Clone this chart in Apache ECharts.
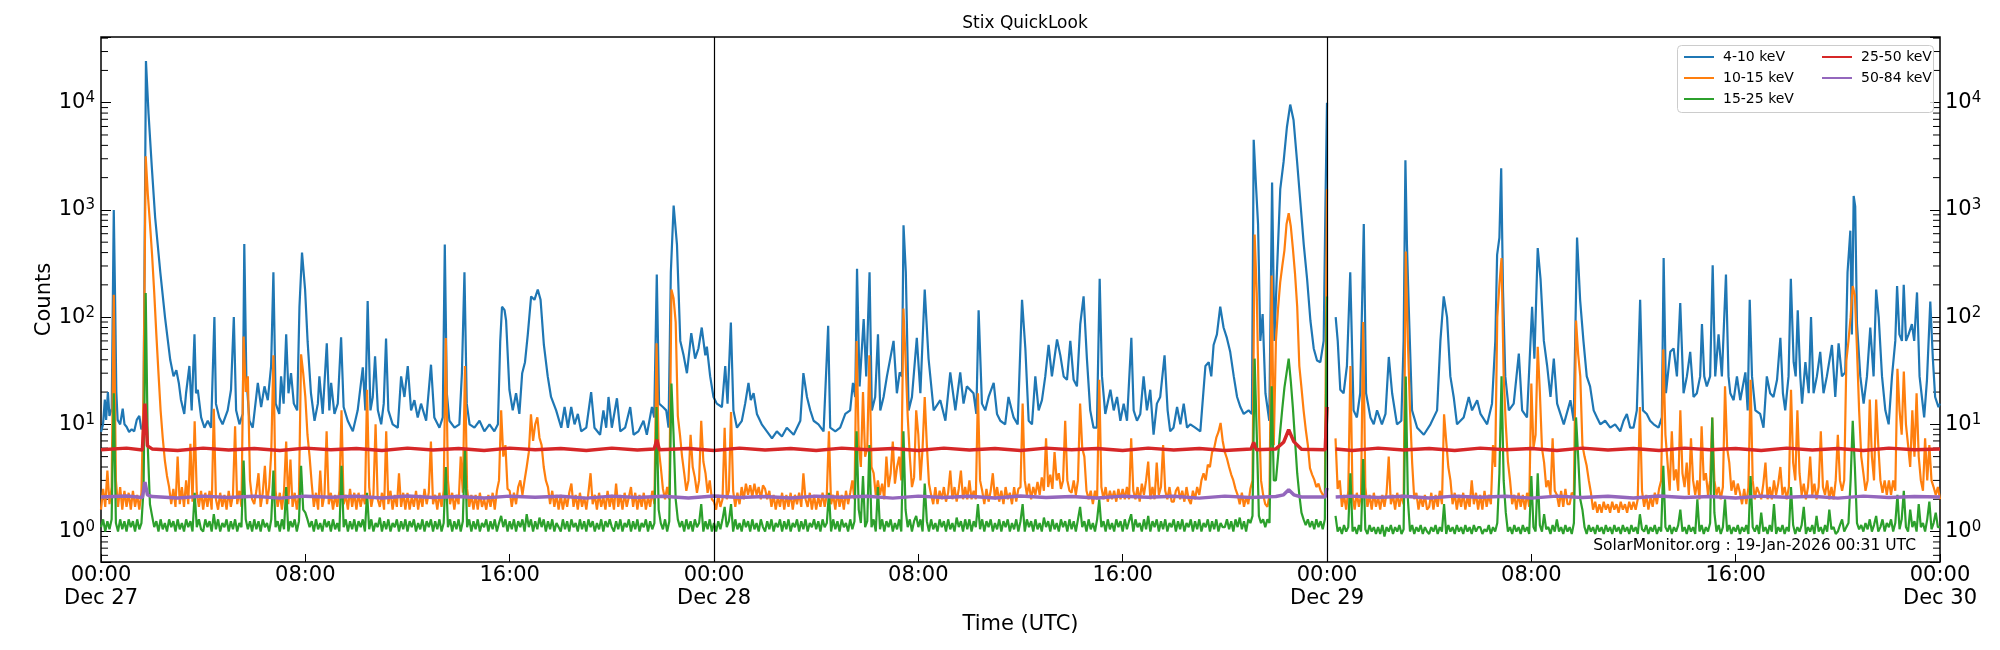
<!DOCTYPE html>
<html>
<head>
<meta charset="utf-8">
<title>Stix QuickLook</title>
<script src="https://cdn.jsdelivr.net/npm/echarts@6/dist/echarts.min.js"></script>
<style>
  html, body { margin: 0; padding: 0; background: #fff; }
  #chart { width: 2000px; height: 650px; }
</style>
</head>
<body>
<div id="chart"></div>
<script>
// STIX quicklook light curves, Dec 27 - Dec 30 (hours since Dec 27 00:00 UTC)
var FONT = 'DejaVu Sans';

var seriesNames = ['4-10 keV', '10-15 keV', '15-25 keV', '25-50 keV', '50-84 keV'];
var seriesColors = ['#1f77b4', '#ff7f0e', '#2ca02c', '#d62728', '#9467bd'];
var xTickLabels = ['00:00\nDec 27', '08:00', '16:00', '00:00\nDec 28', '08:00', '16:00',
  '00:00\nDec 29', '08:00', '16:00', '00:00\nDec 30'];
var dayBoundaries = [24, 48];
var minorTickValues = [0.6, 0.7, 0.8, 0.9, 2, 3, 4, 5, 6, 7, 8, 9, 20, 30, 40, 50, 60, 70, 80, 90,
  200, 300, 400, 500, 600, 700, 800, 900, 2000, 3000, 4000, 5000, 6000, 7000, 8000, 9000,
  20000, 30000, 40000];

// 4-10 keV: [hour, counts]
var counts4to10 = [
  [0,8.5],[0.08,10],[0.15,17],[0.2,11],[0.27,20],[0.33,12],[0.42,14],[0.5,1000],[0.55,160],[0.6,20],
  [0.65,11],[0.75,10],[0.85,14],[0.92,10],[1.0,9.5],[1.1,8.5],[1.2,9],[1.3,8.6],[1.4,11],[1.5,12],
  [1.58,9],[1.66,9.5],[1.76,24500],[1.86,8000],[1.99,2500],[2.12,850],[2.32,265],[2.51,98],[2.71,40],[2.84,28],
  [2.95,32],[3.05,24],[3.13,17],[3.26,12.5],[3.33,19.5],[3.46,35],[3.55,13.5],[3.66,69],[3.72,19.5],[3.79,21],
  [3.92,11.6],[4.05,9.3],[4.18,10.8],[4.31,9.3],[4.44,100],[4.5,15.6],[4.63,11.6],[4.76,10],[4.96,13.5],[5.09,21],
  [5.2,100],[5.29,13.5],[5.42,10],[5.55,12.5],[5.61,480],[5.69,28],[5.81,10.8],[5.94,9.3],[6.14,24.4],[6.27,14.5],
  [6.4,22.6],[6.53,16.8],[6.66,35],[6.75,262],[6.84,15.6],[6.98,12.5],[7.05,28],[7.15,15.6],[7.25,69],[7.34,19.5],
  [7.44,30],[7.55,15.6],[7.68,13.5],[7.77,125],[7.87,400],[7.99,181],[8.09,59],[8.22,19.5],[8.36,10.8],[8.49,15.6],
  [8.55,28],[8.68,12.5],[8.84,57],[8.94,13.5],[9.01,24.4],[9.14,12.5],[9.27,15.6],[9.4,65],[9.5,14.5],[9.66,10.8],
  [9.86,8.6],[10.05,13.5],[10.25,34],[10.35,13.5],[10.44,141],[10.55,13.5],[10.64,18],[10.73,43],[10.84,13.5],[10.97,10],
  [11.07,15.6],[11.16,63],[11.25,13.5],[11.42,10],[11.62,9.3],[11.75,28],[11.88,18],[12.01,35],[12.14,13.5],[12.27,16.8],
  [12.4,11.6],[12.53,15.6],[12.73,10.8],[12.92,36],[13.05,11.6],[13.25,9.3],[13.38,11.6],[13.46,475],[13.54,19.5],[13.64,10.8],
  [13.84,9.3],[14.03,10],[14.13,30],[14.23,262],[14.32,15.6],[14.43,10],[14.62,9.3],[14.82,10.8],[15.01,8.6],[15.21,10],
  [15.4,8.6],[15.54,10],[15.63,59],[15.7,125],[15.8,116],[15.86,93],[15.99,21],[16.12,13.5],[16.25,19.5],[16.38,12.5],
  [16.49,30],[16.6,38],[16.71,69],[16.84,156],[16.97,145],[17.1,181],[17.21,145],[17.34,55],[17.49,28],[17.62,18],
  [17.82,13.5],[18.02,9.3],[18.15,14.5],[18.28,9.3],[18.41,14.5],[18.54,10],[18.67,12.5],[18.8,8.6],[19.0,9.3],[19.19,20],
  [19.32,9.3],[19.54,8],[19.67,13.5],[19.78,9.3],[19.87,18],[20.0,9.3],[20.2,17.5],[20.33,8.6],[20.52,9.3],[20.72,14.5],
  [20.85,8],[21.04,8.6],[21.24,10.8],[21.37,8],[21.57,14.5],[21.66,11.6],[21.76,250],[21.85,15.6],[22.0,14.5],[22.13,13.5],
  [22.22,9.3],[22.31,262],[22.42,1100],[22.55,475],[22.68,60],[22.81,44],[22.94,30],[23.11,71],[23.26,41],[23.39,51],
  [23.52,80],[23.66,44],[23.72,53],[23.85,28],[23.98,18],[24.11,15.6],[24.31,14.5],[24.44,35],[24.53,15.6],[24.66,89],
  [24.76,13.5],[24.9,9.3],[25.09,10.8],[25.22,15.6],[25.35,24.4],[25.44,16.8],[25.55,19.5],[25.68,12.5],[25.87,10],[26.07,8.6],
  [26.27,7.4],[26.46,8.6],[26.66,7.7],[26.85,9.3],[27.12,8],[27.38,10.8],[27.5,30],[27.64,18],[27.77,13.5],[27.9,10.8],
  [28.09,10],[28.29,8.6],[28.47,83],[28.55,9.3],[28.75,8.6],[28.94,9.3],[29.14,12.5],[29.33,13.5],[29.44,24.4],[29.53,18],
  [29.6,282],[29.7,22.6],[29.86,96],[29.96,28],[30.09,262],[30.18,13.5],[30.31,18],[30.42,69],[30.51,13.5],[30.64,18],
  [30.77,28],[30.9,41],[31.03,60],[31.16,19.5],[31.27,30.5],[31.36,28],[31.42,720],[31.51,262],[31.62,13.5],[31.75,18],
  [31.94,64],[32.08,19.5],[32.25,181],[32.4,41],[32.6,13.5],[32.86,16.8],[33.06,10.8],[33.25,30.5],[33.45,13.5],[33.64,30.5],
  [33.77,15.6],[33.9,22.6],[34.16,19.5],[34.27,12.5],[34.36,116],[34.49,15.6],[34.62,13.5],[34.75,18],[34.95,24.4],[35.08,12.5],
  [35.21,10.8],[35.4,10],[35.53,18],[35.73,11.6],[35.89,10],[36.06,145],[36.19,51],[36.32,10.8],[36.45,10],[36.58,28],
  [36.71,13.5],[36.84,16.8],[36.97,28],[37.1,55],[37.23,28],[37.43,62],[37.56,44],[37.69,28],[37.82,26],[37.95,60],
  [38.08,26],[38.21,22.6],[38.34,86],[38.47,156],[38.6,41],[38.73,13.5],[38.86,9.3],[38.99,9.3],[39.1,228],[39.19,28],
  [39.32,12.5],[39.52,21],[39.65,13.5],[39.78,18],[39.91,10.8],[40.04,15.6],[40.17,10.8],[40.34,64],[40.43,13.5],[40.56,10.8],
  [40.69,12.5],[40.82,28],[40.95,13.5],[41.08,21],[41.21,8],[41.34,15.6],[41.47,18],[41.64,44],[41.76,13.5],[41.86,8.6],
  [41.99,9.3],[42.13,14.5],[42.26,10],[42.39,15.6],[42.52,9.3],[42.65,10],[42.84,9.3],[43.04,8.6],[43.24,35],[43.37,38],
  [43.47,28],[43.56,55],[43.69,69],[43.82,125],[43.95,80],[44.08,64],[44.21,47.5],[44.35,28],[44.48,18],[44.61,14.5],
  [44.74,12.5],[44.93,13.5],[45.06,12.5],[45.13,4500],[45.22,1690],[45.3,740],[45.39,60],[45.48,107],[45.59,19.5],[45.74,10.8],
  [45.85,1800],[45.94,60],[46.04,262],[46.17,1560],[46.3,2800],[46.43,5900],[46.56,9600],[46.69,6900],[46.83,2800],[46.96,1160],
  [47.09,475],[47.22,228],[47.35,93],[47.48,51],[47.61,39.4],[47.74,38],[47.87,60],[47.94,1160],[48.0,10000],[48.15,null],
  [48.34,100],[48.42,60],[48.52,21],[48.65,19.5],[48.78,35],[48.91,262],[49.04,13.5],[49.17,11.6],[49.3,19.5],[49.44,740],
  [49.53,19.5],[49.7,11.6],[49.83,10],[49.96,13.5],[50.15,10],[50.29,12.5],[50.42,42.5],[50.55,19.5],[50.74,10],[50.91,10.8],
  [51.0,60],[51.07,2900],[51.13,475],[51.2,125],[51.33,13.5],[51.53,9.3],[51.79,8],[52.05,10],[52.31,13.5],[52.44,60],
  [52.57,156],[52.7,100],[52.83,28],[52.96,18],[53.09,10],[53.35,11.6],[53.55,18],[53.68,13.5],[53.88,16.8],[54.01,12.5],
  [54.27,10],[54.46,15.6],[54.59,60],[54.66,380],[54.75,552],[54.82,2450],[54.89,181],[54.98,28],[55.12,13.5],[55.31,15.6],
  [55.51,45.6],[55.64,13.5],[55.83,11.6],[56.03,125],[56.12,41],[56.25,440],[56.36,228],[56.49,60],[56.62,35],[56.75,18],
  [56.88,41],[57.01,15.6],[57.27,10],[57.53,16.8],[57.66,10.8],[57.79,552],[57.91,145],[58.04,60],[58.17,28],[58.3,22.6],
  [58.44,13.5],[58.57,11.6],[58.7,10],[58.89,10.8],[59.09,9.3],[59.28,10],[59.48,8.6],[59.61,10.8],[59.74,12.5],[59.87,9.3],
  [60.0,9.3],[60.13,13.5],[60.26,145],[60.37,13.5],[60.52,12.5],[60.65,10.8],[60.79,10],[60.98,9.3],[61.11,11.6],[61.18,355],
  [61.27,19.5],[61.44,47.5],[61.57,51],[61.7,28],[61.83,135],[61.96,19.5],[62.09,28],[62.22,47.5],[62.35,18],[62.48,19.5],
  [62.61,28],[62.68,86],[62.77,28],[62.87,22.6],[63.0,28],[63.1,305],[63.2,28],[63.33,69],[63.46,28],[63.62,250],
  [63.72,28],[63.79,19.5],[63.92,16.8],[64.05,28],[64.18,16.8],[64.38,30.5],[64.47,13.5],[64.55,145],[64.64,28],[64.77,13.5],
  [64.96,12.5],[65.09,9.3],[65.22,28],[65.35,19.5],[65.48,18],[65.62,26],[65.75,64],[65.85,19.5],[65.94,13.5],[66.07,28],
  [66.16,228],[66.27,38],[66.35,28],[66.43,116],[66.53,28],[66.6,15.6],[66.73,38],[66.86,19.5],[66.95,100],[67.05,19.5],
  [67.18,28],[67.31,47.5],[67.44,19.5],[67.57,28],[67.77,55],[67.9,18],[68.03,57],[68.16,28],[68.29,30.5],[68.38,262],
  [68.49,640],[68.55,69],[68.62,1350],[68.68,1080],[68.75,86],[68.88,28],[69.01,15.6],[69.14,28],[69.27,80],[69.4,28],
  [69.5,181],[69.6,100],[69.73,28],[69.86,13.5],[69.99,10],[70.12,28],[70.25,60],[70.32,195],[70.41,69],[70.51,60],
  [70.58,200],[70.67,60],[70.77,69],[70.9,86],[70.99,60],[71.1,170],[71.2,28],[71.29,18],[71.38,11.6],[71.49,26],
  [71.62,140],[71.72,41],[71.81,18],[71.94,14.5],[72.0,15.6]
];

// 10-15 keV and 15-25 keV: one value every 5 minutes from 00:00 Dec 27 (two hours per row)
var gridStepHours = 1 / 12;
var counts10to15 = [
  1.6,2.5,1.7,3.7,1.8,2.6,162,3.0,1.7,2.6,1.6,2.4,1.7,2.3,1.6,2.4,1.7,2.2,1.6,2.3,20,3160,1400,750,
  380,170,69,30,13.5,7.5,4.6,3.3,2.6,1.8,2.5,1.7,5,1.8,2.6,1.7,3.0,1.8,6.6,1.9,10.7,2.3,1.7,2.4,
  1.6,2.3,1.7,2.4,1.6,14,2.0,1.6,2.3,1.7,2.2,1.6,2.4,1.7,2.2,9.6,1.8,2.4,1.7,66,20,28,3.0,2.0,
  1.8,2.4,3.5,1.7,2.3,4.1,1.8,2.6,5.5,44,2.4,1.7,2.3,1.6,2.4,6.9,1.8,4.7,1.7,2.3,1.6,2.2,45,30,
  18,8,5,2.8,1.7,2.3,1.6,3.7,1.7,2.2,8.6,1.8,2.3,1.6,2.2,1.7,2.4,13.5,1.8,2.2,1.6,2.5,1.7,2.3,
  1.6,2.3,1.7,2.2,1.8,21,2.6,1.7,2.2,10,2.0,1.7,2.3,1.6,8.6,1.8,2.4,1.6,2.2,1.7,3.5,1.7,2.3,1.6,
  2.3,1.6,2.1,1.7,2.4,1.6,2.2,1.7,2.5,1.8,2.3,6.9,1.8,2.2,1.6,2.3,1.7,2.4,64,3.0,1.8,2.3,1.6,2.2,
  1.8,5,2.3,35,2.5,1.7,2.2,1.6,2.2,1.6,2.3,1.7,2.0,1.6,2.2,1.7,2.3,1.6,2.4,3.0,13.5,5,6.4,2.5,
  2.4,1.7,2.3,1.8,2.6,3.0,2.2,3.0,4.0,5.5,12.4,7,10,11.6,7.5,6.4,4.0,3.0,2.6,1.8,2.4,1.7,2.2,1.6,
  2.2,1.6,2.1,1.7,2.3,2.8,1.7,2.2,1.6,2.3,1.7,2.1,1.6,2.3,3.5,1.8,2.2,1.6,2.3,1.7,2.1,1.6,2.4,1.7,
  2.2,1.6,2.8,1.7,2.2,1.6,2.3,1.7,2.1,2.6,1.7,2.3,1.6,2.2,1.7,2.3,1.6,2.1,1.7,2.4,1.8,57,6,4,
  2.5,2.0,2.6,2.0,181,150,90,12,8,5,3.5,2.4,3.0,8,4,3.2,2.3,3.0,10.8,4.5,3.5,2.3,3.0,2.0,
  1.9,1.6,2.2,1.7,2.0,9.3,2.0,2.4,13,2.4,1.7,2.3,1.8,2.6,2.0,2.8,2.2,2.7,2.1,2.8,2.2,2.6,2.0,2.7,
  2.5,2.0,2.4,1.7,2.2,1.6,2.1,1.7,2.3,1.6,2.2,1.7,2.3,1.6,2.2,1.8,2.3,1.7,3.5,2.0,1.7,2.3,1.6,2.2,
  1.6,2.1,1.7,2.3,1.7,2.2,8.6,1.8,2.2,1.6,2.4,1.7,2.2,1.6,2.4,1.8,2.3,3.0,2.0,60,6.4,4,20,5,
  6,44,4,3.5,2.2,3.0,2.2,2.8,2.0,5,2.6,3.5,6.9,2.8,4.0,5,3.0,120,40,12,5,2.6,3.2,13.5,
  8,3.0,6,18,6.4,2.8,2.2,1.8,2.6,1.8,2.4,2.0,2.6,1.9,2.3,3.7,2.0,2.6,1.9,2.5,3.7,2.0,2.6,2.0,
  3.0,2.0,2.4,2.0,19.5,3.0,2.4,1.8,2.5,1.9,2.4,3.5,2.0,2.6,1.9,2.4,1.8,2.6,2.0,2.3,1.8,2.6,1.9,2.5,
  2.6,15.6,3.0,2.2,2.8,2.0,2.6,2.2,2.9,2.2,3.2,2.4,7.4,2.6,3.4,2.5,5.5,3.0,3.5,2.5,3.0,10.8,3.0,2.4,
  2.3,3.0,2.2,3.0,15.6,6,5,2.4,2.0,2.4,1.8,2.4,2.0,26,2.6,2.0,2.6,1.9,2.4,2.0,2.4,1.9,2.5,2.0,
  2.5,2.0,2.6,2.0,7.4,2.4,2.0,2.6,1.9,2.8,2.2,3.0,4.5,2.0,2.6,2.0,4.4,2.2,2.6,6.4,2.4,2.0,2.6,1.9,
  1.9,2.4,2.6,2.0,2.4,1.9,2.6,2.0,1.8,2.4,2.0,2.6,2.2,3.0,3.5,3.0,4.2,4.0,5.5,6.0,7.5,8.5,10.3,7,
  5.5,4.8,4.0,3.4,3.0,2.5,2.2,1.8,2.3,1.7,2.1,1.8,2.5,3.0,590,168,13.5,3.0,2.2,1.8,1.7,2.2,245,6.4,
  60,120,210,300,420,740,930,700,430,250,125,35,22,13.5,9,6.4,3.9,3.4,3.05,2.6,2.8,2.4,2.2,2.2,
  1560,null,null,null,7.4,2.5,3.0,1.7,2.2,1.6,2.4,35,2.2,1.6,2.3,1.7,2.2,90,2.6,1.7,2.2,1.6,2.3,1.7,
  2.1,1.6,2.2,1.7,2.3,5,1.8,2.2,1.6,2.3,1.7,2.2,1.8,410,60,13.5,4.4,2.0,2.3,1.6,2.1,1.7,2.2,1.6,
  1.7,2.3,1.6,2.2,1.7,2.4,1.8,12.4,7,4,3.0,1.8,2.3,1.6,2.2,1.7,2.3,1.6,2.1,1.7,3.0,1.8,2.3,1.6,
  2.2,1.6,2.4,1.7,2.2,1.8,6.4,4,100,200,355,28,10,4.5,3.0,1.8,2.2,1.6,2.3,1.7,2.2,1.6,2.3,1.7,
  24,6,8,53,20,6,4.4,2.6,3.0,2.2,7.4,2.4,2.2,1.7,2.4,1.7,2.5,1.8,1.8,2.3,2.2,93,45,28,
  6.4,5,4.1,3.0,2.3,1.6,1.9,1.5,1.8,1.5,1.9,1.6,1.8,1.5,1.9,1.6,1.8,1.5,1.9,1.6,1.8,1.5,1.9,1.6,
  1.9,1.6,2.0,14.5,2.4,1.7,2.2,1.6,2.1,1.7,2.3,1.8,2.5,3.0,50,8,4.4,2.4,8.6,3.0,3.8,2.4,13.5,3.5,
  2.6,4.4,2.2,7.4,3.0,2.2,3.0,2.0,9.6,3.0,3.5,2.2,3.0,11.6,3.0,2.2,2.6,2.0,2.6,22.6,6,4.4,2.4,3.0,
  2.2,2.8,2.3,1.8,2.5,1.8,2.6,26,3.0,2.0,2.6,2.3,2.0,2.8,4.4,2.0,2.6,2.0,3.0,2.2,2.8,4.0,2.2,2.6,
  2.0,2.6,21,4.4,3.0,13.5,3.5,2.2,2.8,2.0,2.6,5,2.2,2.8,2.0,2.6,8.6,2.6,2.2,3.0,2.0,2.6,2.0,3.0,
  8,3.0,2.4,3.0,39,60,100,195,160,50,13.5,5,3.5,2.4,3.0,17,5,3.0,17,6.4,3.0,2.3,3.0,2.2,
  3.0,2.2,3.0,2.4,33,13.5,8,31,10,6.4,4,13.5,5,19.5,5,3.0,2.4,7.4,3.0,6.4,3.0,2.6,2.2,2.6,
  2.0
];
var counts15to25 = [
  1.1,1.3,1.0,1.25,1.05,1.3,19.5,1.2,1.0,1.3,1.05,1.25,1.0,1.3,1.1,1.25,1.0,1.3,1.05,1.2,2.5,168,6,1.8,
  1.4,1.1,1.25,1.0,1.3,1.05,1.2,1.0,1.3,1.1,1.25,1.0,1.3,1.05,1.2,1.0,1.3,1.1,1.25,1.0,2.3,1.1,1.3,1.05,
  1.0,1.3,1.1,1.25,1.0,1.45,1.05,1.3,1.0,1.2,1.1,1.3,1.0,1.25,1.05,1.3,1.0,1.2,1.1,4.6,1.3,1.05,1.25,1.0,
  1.3,1.05,1.25,1.0,1.3,1.1,1.2,1.0,1.3,3.7,1.1,1.25,1.0,1.3,1.05,2.6,1.0,1.25,1.1,1.3,1.0,1.25,4.1,1.6,
  1.5,1.3,1.1,1.25,1.0,1.3,1.05,1.2,1.0,1.3,1.1,1.25,1.0,1.3,1.05,1.2,1.0,4.1,1.1,1.3,1.0,1.25,1.05,1.3,
  1.0,1.25,1.1,1.3,1.0,2.3,1.05,1.3,1.0,1.2,1.1,1.35,1.0,1.25,1.05,1.3,1.0,1.2,1.1,1.3,1.0,1.25,1.05,1.3,
  1.0,1.25,1.1,1.3,1.0,1.2,1.05,1.3,1.0,1.25,1.1,1.3,1.0,1.25,1.05,1.3,1.0,1.2,4.0,1.1,1.3,1.0,1.25,1.05,
  1.3,1.0,1.25,5.9,1.1,1.3,1.0,1.25,1.05,1.3,1.0,1.2,1.1,1.3,1.0,1.25,1.05,1.3,1.0,1.2,1.4,1.1,1.3,1.0,
  1.25,1.05,1.3,1.0,1.25,1.1,1.3,1.0,1.45,1.1,1.3,1.0,1.25,1.05,1.35,1.1,1.3,1.0,1.25,1.05,1.3,1.0,1.2,1.1,
  1.0,1.3,1.05,1.25,1.0,1.3,1.1,1.2,1.0,1.3,1.05,1.25,1.0,1.3,1.1,1.25,1.0,1.2,1.05,1.3,1.0,1.25,1.1,1.3,
  1.1,1.0,1.25,1.05,1.3,1.0,1.2,1.1,1.3,1.0,1.25,1.05,1.3,1.0,1.2,1.1,1.3,1.0,1.25,1.05,1.2,14.5,1.6,1.2,
  1.05,1.3,1.0,1.25,24,8,2.0,1.3,1.1,1.25,1.0,1.3,1.05,1.25,1.0,1.3,1.1,1.2,1.8,1.0,1.25,1.05,1.3,1.0,
  1.2,1.0,1.25,1.05,1.3,1.7,1.1,1.25,1.8,1.0,1.3,1.05,1.2,1.0,1.3,1.1,1.25,1.0,1.3,1.05,1.2,1.0,1.3,1.1,
  1.0,1.25,1.05,1.3,1.0,1.2,1.1,1.3,1.0,1.25,1.05,1.3,1.0,1.2,1.1,1.3,1.0,1.25,1.05,1.3,1.0,1.2,1.1,1.3,
  1.05,1.25,1.0,1.3,1.1,1.2,2.3,1.0,1.3,1.05,1.25,1.0,1.3,1.1,1.2,1.0,1.3,1.05,1.25,8.6,1.6,1.2,3.3,1.1,
  1.25,6.4,1.1,1.3,1.0,2.6,1.05,1.3,1.0,1.25,1.1,1.3,1.0,1.2,1.05,1.3,1.0,8.6,1.6,1.1,1.3,1.0,1.25,1.4,
  1.1,1.3,1.0,2.8,1.25,1.0,1.3,1.05,1.2,1.0,1.3,1.1,1.25,1.0,1.3,1.05,1.2,1.0,1.35,1.1,1.25,1.0,1.3,1.05,
  1.3,1.0,1.25,1.1,1.8,1.05,1.3,1.0,1.25,1.1,1.3,1.0,1.2,1.05,1.3,1.0,1.25,1.1,1.3,1.0,1.2,1.05,1.3,1.0,
  1.25,1.8,1.0,1.3,1.1,1.25,1.0,1.3,1.05,1.2,1.0,1.35,1.1,1.25,1.0,1.3,1.05,1.2,1.0,1.3,1.1,1.25,1.0,1.3,
  1.05,1.25,1.0,1.3,1.7,1.1,1.25,1.0,1.3,1.05,1.2,1.0,1.3,2.0,1.1,1.25,1.0,1.3,1.05,1.2,1.0,1.3,1.1,1.25,
  1.0,1.3,1.05,1.25,1.45,1.0,1.3,1.1,1.2,1.0,1.3,1.05,1.4,1.0,1.25,1.1,1.3,1.0,1.25,1.05,1.3,1.0,1.2,1.1,
  1.3,1.0,1.25,1.05,1.3,1.0,1.2,1.1,1.3,1.0,1.25,1.05,1.3,1.0,1.2,1.1,1.3,1.0,1.25,1.05,1.3,1.0,1.2,1.1,
  1.1,1.3,1.05,1.25,1.0,1.3,1.1,1.35,1.05,1.25,1.0,1.3,1.2,1.4,41,8,1.4,1.2,1.3,1.1,1.3,1.2,22.6,3.0,
  3.0,5,8.6,14,22,30,41,25,14,7,3.5,2.2,1.5,1.3,1.15,1.3,1.1,1.25,1.05,1.3,1.1,1.25,1.05,1.3,
  156,null,null,null,1.4,1.0,1.1,0.95,1.15,1.0,1.1,3.5,1.0,1.1,0.95,1.15,1.0,4.75,1.05,0.95,1.15,1.0,1.1,0.95,
  1.1,0.95,1.15,0.9,1.1,1.0,1.15,0.95,1.1,1.0,1.15,0.95,1.05,28,2.0,1.0,1.15,0.95,1.1,1.0,1.15,0.95,1.1,1.0,
  0.95,1.1,1.0,1.15,0.95,1.1,1.0,1.8,0.95,1.15,1.0,1.1,0.95,1.15,1.0,1.1,0.95,1.15,1.0,1.1,0.95,1.15,1.0,1.1,
  1.1,0.95,1.05,1.0,1.15,0.95,1.1,1.0,1.2,3.5,28,3.0,1.5,1.0,1.1,0.95,1.15,1.0,1.1,0.95,1.15,1.0,1.1,0.95,
  3.3,1.1,1.0,3.5,1.15,1.0,1.45,1.05,1.1,0.95,1.15,1.0,1.3,1.0,1.1,0.95,1.15,1.0,1.1,0.95,1.2,11.6,5,2.0,
  1.6,1.1,0.95,1.15,1.0,1.1,0.95,1.15,1.0,1.1,0.95,1.15,1.0,1.1,0.95,1.15,1.0,1.1,0.95,1.15,1.0,1.1,0.95,1.15,
  1.0,1.1,0.95,1.45,1.05,1.0,1.15,0.95,1.1,1.0,1.15,0.95,1.1,1.0,4.1,1.1,1.0,1.15,0.95,1.1,1.0,1.15,1.6,1.0,
  1.1,0.95,1.15,1.0,1.1,0.95,2.0,1.0,1.15,0.95,1.1,1.0,1.2,11.6,1.5,1.0,1.15,0.95,1.1,2.0,1.0,1.15,0.95,1.1,
  1.0,1.15,0.95,1.1,1.0,1.15,0.95,3.3,1.1,1.0,1.15,0.95,1.5,1.0,1.1,0.95,1.15,1.0,1.8,0.95,1.1,1.0,1.15,0.95,
  1.1,1.0,2.6,1.15,0.95,1.1,1.0,1.15,1.7,0.95,1.1,1.0,1.15,0.95,1.4,1.0,1.1,0.95,1.15,1.0,1.6,1.05,1.1,0.95,
  1.0,1.15,1.3,1.0,1.1,1.2,3.0,10.8,4.0,1.2,1.05,1.15,1.0,1.2,1.05,1.3,1.0,1.15,1.4,1.0,1.1,1.3,1.0,1.2,
  1.1,1.3,1.0,1.2,2.2,1.05,1.3,2.4,1.1,1.0,1.6,1.1,1.25,1.0,1.8,1.1,1.2,1.0,1.3,1.9,1.05,1.2,1.5,1.1,
  1.1
];

// 25-50 keV and 50-84 keV: [hour, counts]
var counts25to50 = [
  [0,5.8],[1,6.0],[1.62,5.75],[1.72,15.6],[1.82,6.3],[2,5.9],[3,5.7],[4,6.0],[5,5.75],[6,5.95],
  [7,5.7],[8,6.0],[9,5.8],[10,5.95],[11,5.7],[12,6.0],[13,5.75],[14,5.95],[15,5.7],[16,6.0],
  [17,5.8],[18,5.95],[19,5.7],[20,6.0],[21,5.75],[21.66,5.9],[21.76,7.2],[21.86,5.8],[23,5.95],[24,5.7],
  [25,6.0],[26,5.75],[27,5.95],[28,5.7],[29,6.0],[30,5.8],[31,5.95],[32,5.7],[33,6.0],[34,5.75],
  [35,5.95],[36,5.7],[37,6.0],[38,5.8],[39,5.95],[40,5.7],[41,6.0],[42,5.75],[43,5.95],[44,5.7],
  [45.03,5.9],[45.13,6.8],[45.23,5.8],[46,5.9],[46.3,6.8],[46.5,8.9],[46.7,6.9],[47,5.85],[47.93,5.8],[48,14.5],
  [48.15,null],[48.34,5.9],[49,5.7],[50,6.0],[51,5.75],[52,5.95],[53,5.7],[54,6.0],[55,5.8],[56,5.95],
  [57,5.7],[58,6.0],[59,5.75],[60,5.95],[61,5.7],[62,6.0],[63,5.8],[64,5.95],[65,5.7],[66,6.0],
  [67,5.75],[68,5.95],[69,5.7],[70,6.0],[71,5.8],[72,5.9]
];
var counts50to84 = [
  [0,2.1],[1,2.15],[1.62,2.08],[1.72,2.9],[1.82,2.2],[2,2.12],[3,2.06],[4,2.14],[5,2.08],[6,2.13],
  [7,2.05],[8,2.14],[9,2.09],[10,2.13],[11,2.06],[12,2.15],[13,2.08],[14,2.12],[15,2.06],[16,2.14],
  [17,2.09],[18,2.13],[19,2.05],[20,2.14],[21,2.08],[22,2.13],[23,2.06],[24,2.15],[25,2.08],[26,2.12],
  [27,2.06],[28,2.14],[29,2.09],[30,2.13],[31,2.05],[32,2.14],[33,2.08],[34,2.13],[35,2.06],[36,2.15],
  [37,2.08],[38,2.12],[39,2.06],[40,2.14],[41,2.09],[42,2.13],[43,2.05],[44,2.14],[45,2.08],[46,2.12],
  [46.3,2.2],[46.5,2.45],[46.7,2.2],[47,2.1],[47.93,2.1],[48,2.55],[48.15,null],[48.34,2.1],[49,2.14],[50,2.08],
  [51,2.13],[52,2.06],[53,2.14],[54,2.09],[55,2.13],[56,2.05],[57,2.14],[58,2.08],[59,2.13],[60,2.06],
  [61,2.15],[62,2.08],[63,2.12],[64,2.06],[65,2.14],[66,2.09],[67,2.13],[68,2.05],[69,2.14],[70,2.08],
  [71,2.12],[72,2.1]
];

function onGrid(values) {
  return values.map(function (v, i) { return [i * gridStepHours, v]; });
}

function isDecade(v) {
  var l = Math.log10(v);
  return Math.abs(l - Math.round(l)) < 1e-6;
}

function yAxisFor(pos) {
  return {
    type: 'log',
    logBase: 10,
    position: pos,
    min: 0.52,
    max: 41000,
    name: pos === 'left' ? 'Counts' : '',
    nameLocation: 'middle',
    nameGap: 46,
    nameMoveOverlap: false,
    nameTextStyle: { fontSize: 21, fontFamily: FONT, color: '#000' },
    axisLine: { show: false },
    axisTick: { show: true, inside: true, length: 10, lineStyle: { color: '#000', width: 1 } },
    axisLabel: {
      margin: pos === 'left' ? 6 : 5,
      formatter: function (v) {
        if (!isDecade(v)) return '';
        return '{b|10}{s|' + Math.round(Math.log10(v)) + '}';
      },
      rich: {
        b: { fontSize: 21, fontFamily: FONT, color: '#000' },
        s: { fontSize: 15, fontFamily: FONT, color: '#000', padding: [0, 0, 9, 0] }
      }
    },
    splitLine: { show: false },
    minorTick: { show: false }
  };
}

function lineSeries(idx, data, width) {
  return {
    name: seriesNames[idx],
    type: 'line',
    data: data,
    showSymbol: false,
    symbol: 'none',
    connectNulls: false,
    animation: false,
    color: seriesColors[idx],
    lineStyle: { color: seriesColors[idx], width: width },
    emphasis: { disabled: true }
  };
}

var blueSeries = lineSeries(0, counts4to10, 2.2);
blueSeries.markLine = {
  silent: true,
  symbol: 'none',
  label: { show: false },
  lineStyle: { color: '#000', width: 1.2, type: 'solid' },
  data: dayBoundaries.map(function (h) { return { xAxis: h }; })
};

var minorTickSeries = {
  type: 'custom',
  silent: true,
  animation: false,
  clip: false,
  data: minorTickValues.map(function (v) { return [0, v]; }),
  renderItem: function (params, api) {
    var v = api.value(1);
    var pL = api.coord([0, v]);
    var pR = api.coord([72, v]);
    var st = { stroke: '#000', lineWidth: 1 };
    return {
      type: 'group',
      children: [
        { type: 'line', shape: { x1: pL[0], y1: pL[1], x2: pL[0] + 7, y2: pL[1] }, style: st },
        { type: 'line', shape: { x1: pR[0] - 7, y1: pR[1], x2: pR[0], y2: pR[1] }, style: st }
      ]
    };
  }
};

var legendCommon = {
  orient: 'vertical',
  top: 45,
  icon: 'rect',
  itemWidth: 30,
  itemHeight: 2,
  itemGap: 7,
  selectedMode: false,
  z: 12,
  textStyle: { fontSize: 14, lineHeight: 14, fontFamily: FONT, color: '#000', padding: [0, 0, 0, 4] }
};

var option = {
  backgroundColor: '#fff',
  animation: false,
  textStyle: { fontFamily: FONT },
  title: [
    { text: 'Stix QuickLook', left: 1020, top: 10, textAlign: 'center',
      textStyle: { fontSize: 17, fontWeight: 'normal', color: '#000', fontFamily: FONT } },
    { text: 'SolarMonitor.org : 19-Jan-2026 00:31 UTC', right: 79, top: 533,
      textStyle: { fontSize: 15.5, fontWeight: 'normal', color: '#000', fontFamily: FONT } }
  ],
  legend: [
    Object.assign({}, legendCommon, { left: 1679, data: seriesNames.slice(0, 3) }),
    Object.assign({}, legendCommon, { left: 1817, data: seriesNames.slice(3) })
  ],
  graphic: [{
    type: 'rect', left: 1677, top: 45, z: 10,
    shape: { width: 256, height: 67, r: 4 },
    style: { fill: 'rgba(255,255,255,0.8)', stroke: '#cccccc', lineWidth: 1 }
  }],
  grid: {
    left: 101, right: 60, top: 37, bottom: 88,
    show: true, borderColor: '#000', borderWidth: 1.5, backgroundColor: 'transparent'
  },
  xAxis: {
    type: 'value',
    min: 0,
    max: 72,
    interval: 8,
    name: 'Time (UTC)',
    nameLocation: 'middle',
    nameGap: 52,
    nameMoveOverlap: false,
    nameTextStyle: { fontSize: 21, fontFamily: FONT, color: '#000' },
    axisLine: { show: false },
    axisTick: { show: true, inside: true, length: 8, lineStyle: { color: '#000', width: 1 } },
    axisLabel: {
      margin: 2,
      fontSize: 21,
      lineHeight: 23,
      fontFamily: FONT,
      color: '#000',
      formatter: function (v) { return xTickLabels[Math.round(v / 8)]; }
    },
    splitLine: { show: false }
  },
  yAxis: [yAxisFor('left'), yAxisFor('right')],
  series: [
    blueSeries,
    lineSeries(1, onGrid(counts10to15), 2.2),
    lineSeries(2, onGrid(counts15to25), 2.2),
    lineSeries(3, counts25to50, 3.5),
    lineSeries(4, counts50to84, 3.5),
    minorTickSeries
  ]
};

var chart = echarts.init(document.getElementById('chart'), null, { renderer: 'canvas' });
chart.setOption(option);
</script>
</body>
</html>
